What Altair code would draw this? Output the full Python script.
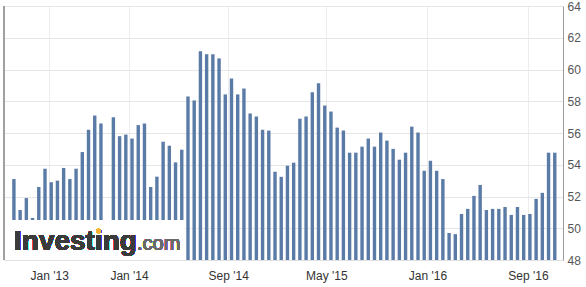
import altair as alt
import pandas as pd

# Bar values (one slot per release; None = no bar in that slot)
values = [
    53.1, 51.15, 51.9, 50.65, 52.6, 53.75, 52.9, 53.0, 53.8, 53.1,
    53.75, 54.8, 56.2, 57.1, 56.6, None, 57.0, 55.8, 55.9, 55.65,
    56.5, 56.6, 52.6, 53.25, 55.45, 55.2, 54.15, 54.95, 58.3, 58.05,
    61.15, 60.96, 60.96, 60.7, 58.43, 59.44, 58.43, 58.8, 57.23, 57.04,
    56.2, 56.15, 53.56, 53.24, 53.94, 54.13, 56.9, 57.04, 58.56, 59.13,
    57.73, 57.35, 56.34, 56.15, 54.76, 54.76, 55.14, 55.65, 55.14, 56.03,
    55.52, 55.0, 54.32, 54.76, 56.4, 56.03, 53.62, 54.25, 53.62, 53.1,
    49.7, 49.63, 50.9, 51.22, 52.04, 52.73, 51.15, 51.22, 51.22, 51.34,
    50.84, 51.34, 50.84, 50.9, 51.85, 52.23, 54.76, 54.76,
]
slots = list(range(len(values)))

# Time-axis labels, positioned in release-slot units
tick_labels = ["Jan '13", "Jan '14", "Sep '14", "May '15", "Jan '16", "Sep '16"]
tick_slots = [5.68, 18.52, 34.47, 50.26, 66.52, 82.69]

y_ticks = [48, 50, 52, 54, 56, 58, 60, 62, 64]

df = pd.DataFrame({"slot": slots, "value": values}).dropna()

label_expr = " : ".join(
    f'datum.value == {p} ? "{t}"' for p, t in zip(tick_slots, tick_labels)
) + ' : ""'

W, H = 559, 254
FONT = "Liberation Sans"

x_scale = alt.Scale(domain=[-0.79, 87.52], nice=False, zero=False)
y_scale = alt.Scale(domain=[48, 64], nice=False, zero=False)

bars = alt.Chart(df).mark_bar(width=3.4, color="#5b7ba7").encode(
    x=alt.X("slot:Q", scale=x_scale,
            axis=alt.Axis(values=tick_slots, labelExpr=label_expr, title=None,
                          grid=True, gridColor="#ececec", ticks=False,
                          domainColor="#e0e0e0", labelColor="#333333",
                          labelFontSize=12, labelFont=FONT, labelPadding=10,
                          labelFlush=False)),
    y=alt.Y("value:Q", scale=y_scale,
            axis=alt.Axis(orient="right", values=y_ticks, title=None,
                          grid=True, gridColor="#e6e6e6", ticks=False,
                          domainColor="#9a9a9a", labelColor="#555555",
                          labelFontSize=12, labelFont=FONT, labelPadding=4)),
    y2=alt.datum(48),
)

left_line = alt.Chart(df).mark_rule(color="#a0a0a0", strokeWidth=1).encode(
    x=alt.value(0), y=alt.value(0), y2=alt.value(H)
)

overlay = alt.Chart(df).mark_rect(color="white", opacity=0.5).encode(
    x=alt.value(1), x2=alt.value(181), y=alt.value(214), y2=alt.value(H)
)

logo = alt.Chart(df).mark_text(
    text="Investing", font=FONT, fontSize=28, fontWeight="bold",
    color="#3b3b3b", align="left", baseline="alphabetic"
).encode(x=alt.value(10), y=alt.value(244))

dotcom = alt.Chart(df).mark_text(
    text=".com", font=FONT, fontSize=20, color="#6a6a6a",
    align="left", baseline="alphabetic"
).encode(x=alt.value(133), y=alt.value(244))

dot = alt.Chart(df).mark_point(
    shape="circle", filled=True, color="#f3b233", size=22, opacity=1
).encode(x=alt.value(94.5), y=alt.value(225))

chart = alt.layer(bars, left_line, overlay, logo, dotcom, dot).properties(
    width=W, height=H,
    autosize=alt.AutoSizeParams(type="none"),
    padding={"left": 4, "top": 6, "right": 23, "bottom": 27},
    background="white",
).configure_view(stroke=None)

chart.save("out.html", embed_options={"renderer": "svg", "actions": False})
